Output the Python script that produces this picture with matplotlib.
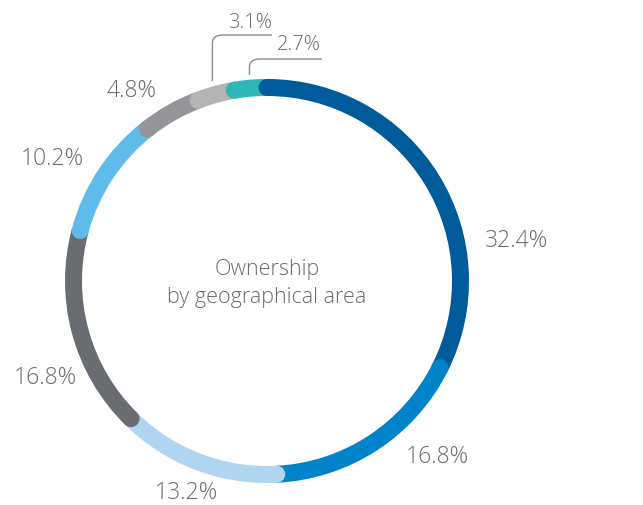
import numpy as np
import matplotlib.pyplot as plt
from matplotlib.patches import Wedge, Circle, PathPatch
from matplotlib.path import Path

# Ownership by geographical area (%), clockwise from 12 o'clock
shares = [32.4, 16.8, 13.2, 16.8, 10.2, 4.8, 3.1, 2.7]
labels = ["32.4%", "16.8%", "13.2%", "16.8%", "10.2%", "4.8%", "3.1%", "2.7%"]
colors = ["#005b9b", "#0083c9", "#b0d5f1", "#696d72", "#5ebbea",
          "#939598", "#b4b4b5", "#2fb6b6"]

W, H = 643, 506
# label positions in pixels (x, y from top) and sizes
label_pos = [(517, 241), (437, 457), (186, 493), (45, 378),
             (52, 159), (131, 91), (250, 23), (299, 45)]
label_size = [16.5, 16.5, 16.5, 16.5, 16.5, 16.5, 14.5, 14.5]

cx, cy = 267, H - 282
r_out = 202
ring = 17
r_mid = r_out - ring / 2
txt_col = "#6b6b6b"
font = dict(family=['Open Sans', 'DejaVu Sans'], fontweight='light',
            fontstretch='normal', color=txt_col)

fig = plt.figure(figsize=(W / 100, H / 100), dpi=100)
ax = fig.add_axes([0, 0, 1, 1])
ax.set_xlim(0, W)
ax.set_ylim(0, H)
ax.set_aspect('equal')
ax.axis('off')

total = sum(shares)
bounds = np.cumsum([0] + shares) / total * 360.0

# arcs
for i, c in enumerate(colors):
    a0, a1 = bounds[i], bounds[i + 1]
    ax.add_patch(Wedge((cx, cy), r_out, 90 - a1, 90 - a0, width=ring,
                       facecolor=c, edgecolor='none'))
# rounded start caps, drawn over the previous segment
for i, c in enumerate(colors):
    a0 = np.radians(bounds[i])
    ax.add_patch(Circle((cx + r_mid * np.sin(a0), cy + r_mid * np.cos(a0)),
                        ring / 2, facecolor=c, edgecolor='none'))

for (x, y), t, s in zip(label_pos, labels, label_size):
    ax.text(x, H - y, t, ha='center', va='center', fontsize=s, **font)

# leader lines for the two small slices
def leader(idx, top_y, end_x, gap=5):
    a = np.radians((bounds[idx] + bounds[idx + 1]) / 2)
    x0 = cx + (r_out + gap) * np.sin(a)
    y0 = cy + (r_out + gap) * np.cos(a)
    ty = H - top_y
    verts = [(x0, y0), (x0, ty - 8), (x0, ty), (x0 + 10, ty), (end_x, ty)]
    codes = [Path.MOVETO, Path.LINETO, Path.CURVE3, Path.CURVE3, Path.LINETO]
    ax.add_patch(PathPatch(Path(verts, codes), facecolor='none',
                           edgecolor='#8c8c8c', lw=1))

leader(6, 36, 272)
leader(7, 60, 322)

ax.text(cx, H - 270, "Ownership", ha='center', va='center', fontsize=15.5, **font)
ax.text(cx, H - 298, "by geographical area", ha='center', va='center',
        fontsize=15.5, **font)

fig.savefig("out.png", dpi=100)
